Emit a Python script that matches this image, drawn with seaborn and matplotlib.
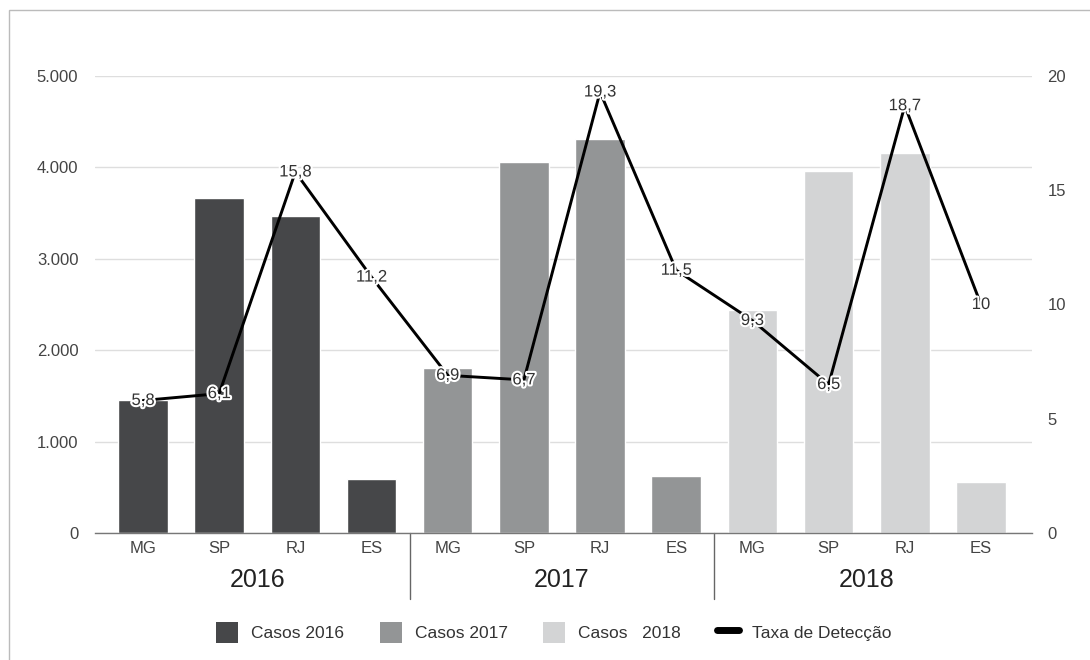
import matplotlib
matplotlib.use("Agg")
import matplotlib.pyplot as plt
import matplotlib.patheffects as pe
from matplotlib.patches import Patch, Rectangle
from matplotlib.lines import Line2D
from matplotlib.ticker import FuncFormatter, FixedLocator
import seaborn as sns
import pandas as pd

# Dados
estados = ["MG", "SP", "RJ", "ES"]
anos = ["2016", "2017", "2018"]
casos_2016 = [1460, 3665, 3468, 590]
casos_2017 = [1800, 4060, 4310, 624]
casos_2018 = [2440, 3960, 4157, 558]
taxa_deteccao = [5.8, 6.1, 15.8, 11.2, 6.9, 6.7, 19.3, 11.5, 9.3, 6.5, 18.7, 10]
rotulos_legenda = ["Casos 2016", "Casos 2017", "Casos   2018", "Taxa de Detecção"]
cores = ["#464749", "#939596", "#d3d4d5"]

sns.set_theme(style="white")
plt.rcParams["font.family"] = ["Liberation Sans", "DejaVu Sans"]

linhas = []
for ano, valores in zip(anos, [casos_2016, casos_2017, casos_2018]):
    for uf, v in zip(estados, valores):
        linhas.append({"chave": f"{uf}-{ano}", "uf": uf, "ano": ano, "casos": v})
df = pd.DataFrame(linhas)

fig = plt.figure(figsize=(10.9, 6.6), dpi=100)
ax = fig.add_axes([95 / 1090, 1 - 533 / 660, (1032 - 95) / 1090, (533 - 76) / 660])

sns.barplot(data=df, x="chave", y="casos", hue="ano", palette=cores,
            dodge=False, width=0.65, ax=ax, legend=False, saturation=1)

ax.set_xlim(-0.63, 11.67)
ax.set_ylim(0, 5000)
ax.yaxis.set_major_locator(FixedLocator([0, 1000, 2000, 3000, 4000, 5000]))
ax.yaxis.set_major_formatter(FuncFormatter(lambda v, p: f"{int(v):,}".replace(",", ".")))
ax.set_xlabel("")
ax.set_ylabel("")
ax.set_xticks(range(len(df)))
ax.set_xticklabels(df["uf"])
ax.tick_params(axis="both", length=0, labelsize=12, colors="#444444")
ax.tick_params(axis="y", pad=12)
ax.tick_params(axis="x", pad=6)
ax.grid(axis="y", color="#dedede", linewidth=1)
ax.set_axisbelow(True)
for s in ["top", "right", "left"]:
    ax.spines[s].set_visible(False)
ax.spines["bottom"].set_color("#777777")
ax.spines["bottom"].set_linewidth(1)

# Eixo secundário com a taxa de detecção
ax2 = ax.twinx()
pos = list(range(len(taxa_deteccao)))
sns.lineplot(x=pos, y=taxa_deteccao, ax=ax2, color="black", linewidth=2.1)
ax2.set_ylim(0, 20)
ax2.set_yticks([0, 5, 10, 15, 20])
ax2.tick_params(axis="y", length=0, labelsize=12, colors="#444444", pad=11)
for s in ["top", "right", "left", "bottom"]:
    ax2.spines[s].set_visible(False)
ax2.set_ylabel("")
ax2.grid(False)

for x, v in zip(pos, taxa_deteccao):
    txt = f"{v:g}".replace(".", ",")
    ax2.text(x, v, txt, ha="center", va="center", fontsize=12, color="#333333",
             path_effects=[pe.withStroke(linewidth=3, foreground="white")], zorder=5)

# Separadores de grupo e rótulos dos anos
for sep in [3.5, 7.5]:
    ax.plot([sep, sep], [0, -0.145], transform=ax.get_xaxis_transform(),
            color="#666666", linewidth=1, clip_on=False)
for i, ano in enumerate(anos):
    ax.text(i * 4 + 1.5, -0.103, ano, transform=ax.get_xaxis_transform(),
            ha="center", va="center", fontsize=18, color="#222222")

# Legenda
handles = [Patch(facecolor=c, edgecolor="none") for c in cores]
handles.append(Line2D([0], [0], color="black", linewidth=5))
fig.legend(handles, rotulos_legenda, loc="center", bbox_to_anchor=(0.508, 0.042),
           ncol=4, frameon=False, fontsize=12.5, handlelength=1.26, handleheight=1.5,
           columnspacing=2.05, handletextpad=0.75, labelcolor="#333333")

# Moldura
fig.add_artist(Rectangle((9 / 1090, -0.1), 1.2, 1 - 10 / 660 + 0.1,
                         transform=fig.transFigure, fill=False,
                         edgecolor="#bbbbbb", linewidth=1))

fig.savefig("out.png", dpi=100)
